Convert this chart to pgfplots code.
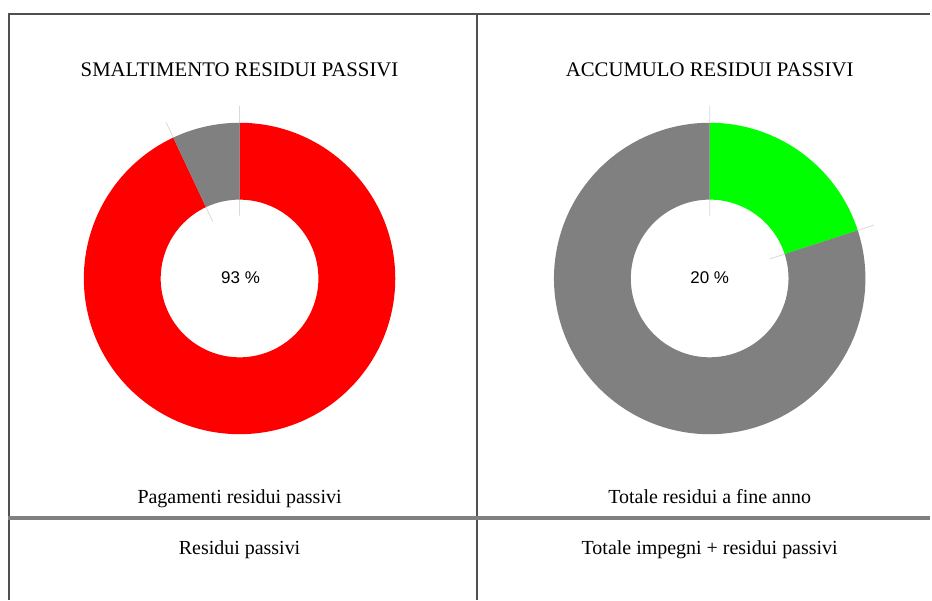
\documentclass[border=0pt]{standalone}
\usepackage{fontspec}
\setmainfont{Liberation Serif}
\newfontfamily\helv{Liberation Sans}
\usepackage{pgfplots}
\usepackage{pgfplotstable}
\pgfplotsset{compat=1.18}
\definecolor{borderc}{HTML}{505050}
\definecolor{thickc}{HTML}{808080}
\definecolor{slicegray}{HTML}{808080}
\definecolor{slicered}{HTML}{FF0000}
\definecolor{slicegreen}{HTML}{00FF00}
\definecolor{sepc}{HTML}{D9D9D9}
\pgfplotstableread{
slice value
Pagamenti 93
Altro 7
}\smaltimento
\pgfplotstableread{
slice value
Residui 20
Altro 80
}\accumulo
\pgfplotstablegetelem{0}{value}\of\smaltimento \let\valSa\pgfplotsretval
\pgfplotstablegetelem{1}{value}\of\smaltimento \let\valSb\pgfplotsretval
\pgfplotstablegetelem{0}{value}\of\accumulo \let\valAa\pgfplotsretval
\pgfplotstablegetelem{1}{value}\of\accumulo \let\valAb\pgfplotsretval
\pgfmathsetmacro\angSa{90-3.6*\valSa}
\pgfmathsetmacro\angSb{\angSa-3.6*\valSb}
\pgfmathsetmacro\angAa{90-3.6*\valAa}
\pgfmathsetmacro\angAb{\angAa-3.6*\valAb}
\begin{document}%
\begin{tikzpicture}
\begin{axis}[x=1pt,y=1pt,xmin=0,xmax=932,ymin=0,ymax=601,
  hide axis,scale only axis,clip=false]
\path (axis cs:0,0) rectangle (axis cs:932,601);
% table lines
\draw[borderc,line width=2pt] (axis cs:9,0) -- (axis cs:9,586.7);
\draw[borderc,line width=2pt] (axis cs:8,586.7) -- (axis cs:932,586.7);
\draw[borderc,line width=2pt] (axis cs:478,0) -- (axis cs:478,586.7);
\draw[thickc,line width=3.5pt] (axis cs:8,82) -- (axis cs:932,82);
% separator ticks
\draw[sepc,line width=0.8pt,shift={(axis cs:240,322)}] (90:63pt) -- (90:173pt) (\angSa:63pt) -- (\angSa:173pt);
\draw[sepc,line width=0.8pt,shift={(axis cs:711,322)}] (90:63pt) -- (90:173pt) (\angAa:63pt) -- (\angAa:173pt);
% donut 1
\fill[slicered,shift={(axis cs:240,322)}] (90:156pt) arc[start angle=90,end angle=\angSa,radius=156pt] -- (\angSa:79pt) arc[start angle=\angSa,end angle=90,radius=79pt] -- cycle;
\fill[slicegray,shift={(axis cs:240,322)}] (\angSa:156pt) arc[start angle=\angSa,end angle=\angSb,radius=156pt] -- (\angSb:79pt) arc[start angle=\angSb,end angle=\angSa,radius=79pt] -- cycle;
% donut 2
\fill[slicegreen,shift={(axis cs:711,322)}] (90:156pt) arc[start angle=90,end angle=\angAa,radius=156pt] -- (\angAa:79pt) arc[start angle=\angAa,end angle=90,radius=79pt] -- cycle;
\fill[slicegray,shift={(axis cs:711,322)}] (\angAa:156pt) arc[start angle=\angAa,end angle=\angAb,radius=156pt] -- (\angAb:79pt) arc[start angle=\angAb,end angle=\angAa,radius=79pt] -- cycle;
% texts
\node[anchor=base,inner sep=0pt,font=\fontsize{20.8}{24}\selectfont] at (axis cs:240,524) {SMALTIMENTO RESIDUI PASSIVI};
\node[anchor=base,inner sep=0pt,font=\fontsize{20.8}{24}\selectfont] at (axis cs:711,524) {ACCUMULO RESIDUI PASSIVI};
\node[anchor=base,inner sep=0pt,font=\helv\fontsize{17}{20}\selectfont] at (axis cs:241,317) {93 \%};
\node[anchor=base,inner sep=0pt,font=\helv\fontsize{17}{20}\selectfont] at (axis cs:711,317) {20 \%};
\node[anchor=base,inner sep=0pt,font=\fontsize{20}{24}\selectfont] at (axis cs:240,97) {Pagamenti residui passivi};
\node[anchor=base,inner sep=0pt,font=\fontsize{20}{24}\selectfont] at (axis cs:711,97) {Totale residui a fine anno};
\node[anchor=base,inner sep=0pt,font=\fontsize{20}{24}\selectfont] at (axis cs:240,45) {Residui passivi};
\node[anchor=base,inner sep=0pt,font=\fontsize{20}{24}\selectfont] at (axis cs:711,45) {Totale impegni + residui passivi};
\end{axis}
\end{tikzpicture}%
\end{document}
